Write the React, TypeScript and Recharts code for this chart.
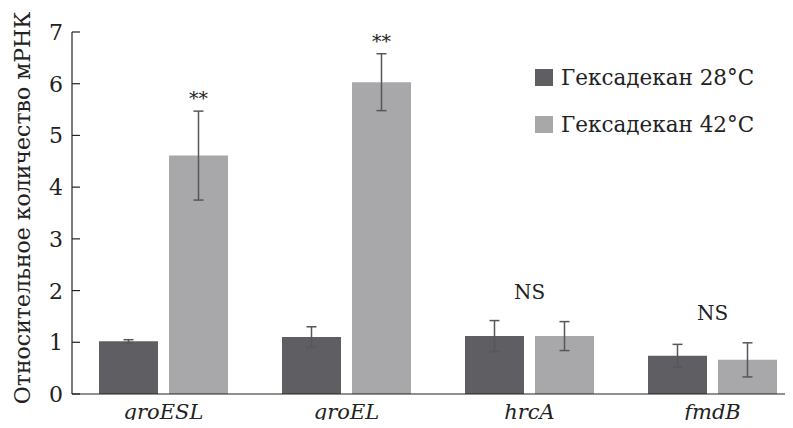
import React from 'react';
import { BarChart, Bar, XAxis, YAxis, ErrorBar, Legend, LabelList } from 'recharts';

const genes = ['groESL', 'groEL', 'hrcA', 'fmdB'];
const hex28 = [1.02, 1.1, 1.12, 0.74];
const hex28Err = [0.03, 0.2, 0.3, 0.22];
const hex42 = [4.61, 6.03, 1.12, 0.66];
const hex42Err = [0.86, 0.55, 0.28, 0.33];
const marks = ['**', '**', 'NS', 'NS'];
const yTicks = [0, 1, 2, 3, 4, 5, 6, 7];

const data = genes.map((g, i) => ({
  gene: g,
  t28: hex28[i],
  t28Err: hex28Err[i],
  t42: hex42[i],
  t42Err: hex42Err[i],
  mark: marks[i],
}));

const FONT = 'DejaVu Serif';
const DARK = '#5f5f63';
const LIGHT = '#a8a8ab';
const ERR = '#57575b';
const PX_PER_UNIT = 362 / 7;
const BAR_GAP = 11;

const YTick = (props: any) => {
  const { x, y, payload } = props;
  return (
    <g>
      <line x1={x} y1={y} x2={x + 8} y2={y} stroke="#222" strokeWidth={1.2} />
      <text x={x - 9} y={y + 8} textAnchor="end" fontFamily={FONT} fontSize={22} fill="#222">
        {payload.value}
      </text>
    </g>
  );
};

const XTick = (props: any) => {
  const { x, y, payload } = props;
  return (
    <text x={x} y={y + 17} textAnchor="middle" fontFamily={FONT} fontSize={21} fontStyle="italic" fill="#222">
      {payload.value}
    </text>
  );
};

// significance marks sit above the light bar's error cap; NS is centred on the pair
const MarkLabel = (props: any) => {
  const { x, y, width, index, value } = props;
  const errTop = y - hex42Err[index] * PX_PER_UNIT;
  const isNs = value === 'NS';
  const cx = isNs ? x - BAR_GAP / 2 : x + width / 2;
  const ty = isNs ? errTop - 23 : errTop - 6;
  return (
    <text x={cx} y={ty} textAnchor="middle" fontFamily={FONT} fontSize={isNs ? 20 : 19} fill="#222">
      {value}
    </text>
  );
};

const LegendBox = () => (
  <div style={{ fontFamily: FONT, fontSize: 21.5, color: '#222' }}>
    {[
      { c: DARK, t: 'Гексадекан 28°C' },
      { c: LIGHT, t: 'Гексадекан 42°C' },
    ].map((it) => (
      <div key={it.t} style={{ display: 'flex', alignItems: 'center', height: 47 }}>
        <span style={{ width: 18, height: 17, background: it.c, display: 'inline-block', marginRight: 8 }} />
        <span>{it.t}</span>
      </div>
    ))}
  </div>
);

export default function App() {
  return (
    <div style={{ width: 793, height: 428, overflow: 'hidden', margin: -8, background: '#fff' }}>
      <BarChart
        width={820}
        height={428}
        data={data}
        margin={{ top: 32, right: 16, bottom: 0, left: 0 }}
        barGap={BAR_GAP}
        barCategoryGap={27}
      >
        <XAxis
          dataKey="gene"
          height={34}
          axisLine={{ stroke: '#222', strokeWidth: 1.2 }}
          tickLine={false}
          tick={<XTick />}
          interval={0}
        />
        <YAxis
          width={72}
          domain={[0, 7]}
          ticks={yTicks}
          interval={0}
          tickSize={0}
          tickMargin={0}
          tickLine={false}
          axisLine={{ stroke: '#222', strokeWidth: 1.2 }}
          tick={<YTick />}
          label={{
            value: 'Относительное количество мРНК',
            angle: -90,
            position: 'insideLeft',
            dx: 17,
            dy: -5,
            style: { fontFamily: FONT, fontSize: 22, fill: '#222', textAnchor: 'middle' },
          }}
        />
        <Legend
          layout="vertical"
          verticalAlign="middle"
          align="center"
          wrapperStyle={{ top: 54, left: 535, width: 250 }}
          content={<LegendBox />}
        />
        <Bar dataKey="t28" name="Гексадекан 28°C" fill={DARK} isAnimationActive={false}>
          <ErrorBar dataKey="t28Err" width={5} stroke={ERR} strokeWidth={1.5} direction="y" />
        </Bar>
        <Bar dataKey="t42" name="Гексадекан 42°C" fill={LIGHT} isAnimationActive={false}>
          <ErrorBar dataKey="t42Err" width={5} stroke={ERR} strokeWidth={1.5} direction="y" />
          <LabelList dataKey="mark" content={<MarkLabel />} />
        </Bar>
      </BarChart>
    </div>
  );
}
